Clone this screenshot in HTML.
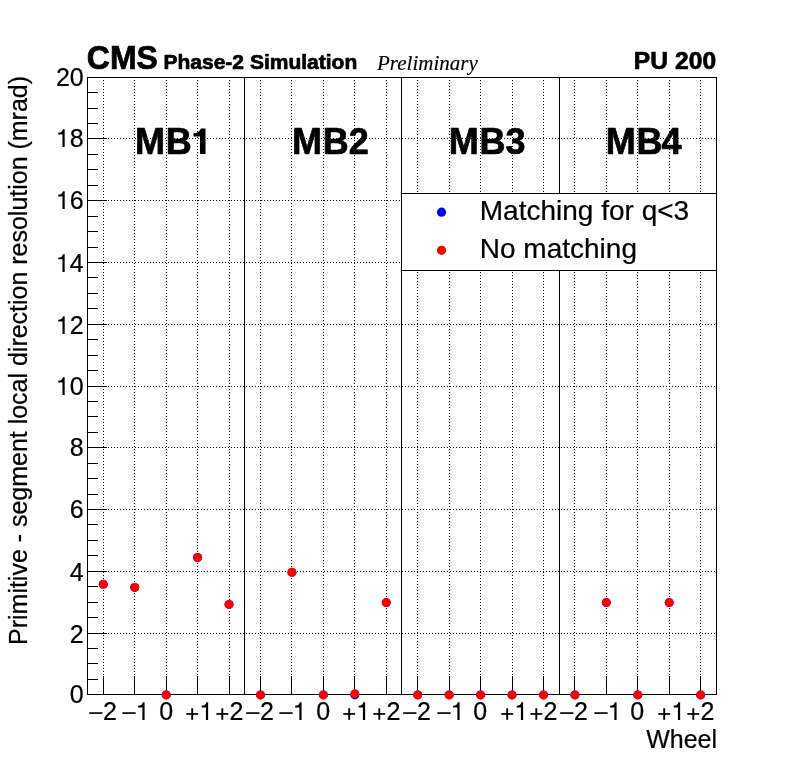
<!DOCTYPE html>
<html><head><meta charset="utf-8"><title>plot</title>
<style>
html,body{margin:0;padding:0;background:#fff;}
body{width:796px;height:772px;overflow:hidden;position:relative;font-family:"Liberation Sans",sans-serif;}
svg{position:absolute;left:0;top:0;will-change:transform;}
text{font-family:"Liberation Sans",sans-serif;fill:#000;stroke:#000;stroke-width:0.22px;stroke-linejoin:round;}
.s{font-family:"Liberation Serif",serif;font-style:italic;stroke-width:0.15px;}
.b{font-weight:bold;stroke-width:0.7px;}
</style></head><body>
<svg width="796" height="772" viewBox="0 0 796 772">
<rect x="0" y="0" width="796" height="772" fill="#fff"/>
<defs><path id="one" d="M359 0 L271 0 L271 505 L102 505 L102 568 C196 571 262 606 290 709 L359 709 Z"/><path id="oneb" d="M389 0 L236 0 L236 486 L56 486 L56 575 C160 580 225 620 262 709 L389 709 Z"/></defs>
<g shape-rendering="crispEdges" fill="#000">
<line x1="103.5" y1="80" x2="103.5" y2="694" stroke="#000" stroke-width="1" stroke-dasharray="1 2"/>
<line x1="134.5" y1="80" x2="134.5" y2="694" stroke="#000" stroke-width="1" stroke-dasharray="1 2"/>
<line x1="166.5" y1="80" x2="166.5" y2="694" stroke="#000" stroke-width="1" stroke-dasharray="1 2"/>
<line x1="197.5" y1="80" x2="197.5" y2="694" stroke="#000" stroke-width="1" stroke-dasharray="1 2"/>
<line x1="229.5" y1="80" x2="229.5" y2="694" stroke="#000" stroke-width="1" stroke-dasharray="1 2"/>
<line x1="260.5" y1="80" x2="260.5" y2="694" stroke="#000" stroke-width="1" stroke-dasharray="1 2"/>
<line x1="291.5" y1="80" x2="291.5" y2="694" stroke="#000" stroke-width="1" stroke-dasharray="1 2"/>
<line x1="323.5" y1="80" x2="323.5" y2="694" stroke="#000" stroke-width="1" stroke-dasharray="1 2"/>
<line x1="354.5" y1="80" x2="354.5" y2="694" stroke="#000" stroke-width="1" stroke-dasharray="1 2"/>
<line x1="386.5" y1="80" x2="386.5" y2="694" stroke="#000" stroke-width="1" stroke-dasharray="1 2"/>
<line x1="417.5" y1="80" x2="417.5" y2="694" stroke="#000" stroke-width="1" stroke-dasharray="1 2"/>
<line x1="449.5" y1="80" x2="449.5" y2="694" stroke="#000" stroke-width="1" stroke-dasharray="1 2"/>
<line x1="480.5" y1="80" x2="480.5" y2="694" stroke="#000" stroke-width="1" stroke-dasharray="1 2"/>
<line x1="512.5" y1="80" x2="512.5" y2="694" stroke="#000" stroke-width="1" stroke-dasharray="1 2"/>
<line x1="543.5" y1="80" x2="543.5" y2="694" stroke="#000" stroke-width="1" stroke-dasharray="1 2"/>
<line x1="574.5" y1="80" x2="574.5" y2="694" stroke="#000" stroke-width="1" stroke-dasharray="1 2"/>
<line x1="606.5" y1="80" x2="606.5" y2="694" stroke="#000" stroke-width="1" stroke-dasharray="1 2"/>
<line x1="637.5" y1="80" x2="637.5" y2="694" stroke="#000" stroke-width="1" stroke-dasharray="1 2"/>
<line x1="669.5" y1="80" x2="669.5" y2="694" stroke="#000" stroke-width="1" stroke-dasharray="1 2"/>
<line x1="700.5" y1="80" x2="700.5" y2="694" stroke="#000" stroke-width="1" stroke-dasharray="1 2"/>
<line x1="90" y1="633.5" x2="716" y2="633.5" stroke="#000" stroke-width="1" stroke-dasharray="1 2"/>
<line x1="90" y1="571.5" x2="716" y2="571.5" stroke="#000" stroke-width="1" stroke-dasharray="1 2"/>
<line x1="90" y1="509.5" x2="716" y2="509.5" stroke="#000" stroke-width="1" stroke-dasharray="1 2"/>
<line x1="90" y1="447.5" x2="716" y2="447.5" stroke="#000" stroke-width="1" stroke-dasharray="1 2"/>
<line x1="90" y1="386.5" x2="716" y2="386.5" stroke="#000" stroke-width="1" stroke-dasharray="1 2"/>
<line x1="90" y1="324.5" x2="716" y2="324.5" stroke="#000" stroke-width="1" stroke-dasharray="1 2"/>
<line x1="90" y1="262.5" x2="716" y2="262.5" stroke="#000" stroke-width="1" stroke-dasharray="1 2"/>
<line x1="90" y1="200.5" x2="716" y2="200.5" stroke="#000" stroke-width="1" stroke-dasharray="1 2"/>
<line x1="90" y1="138.5" x2="716" y2="138.5" stroke="#000" stroke-width="1" stroke-dasharray="1 2"/>
<rect x="87" y="77" width="630" height="1"/>
<rect x="87" y="694" width="630" height="1"/>
<rect x="87" y="77" width="1" height="618"/>
<rect x="716" y="77" width="1" height="618"/>
<rect x="244" y="77" width="1" height="618"/>
<rect x="401" y="77" width="1" height="618"/>
<rect x="559" y="77" width="1" height="618"/>
<rect x="87" y="694" width="20" height="1"/>
<rect x="87" y="679" width="11" height="1"/>
<rect x="87" y="663" width="11" height="1"/>
<rect x="87" y="648" width="11" height="1"/>
<rect x="87" y="633" width="20" height="1"/>
<rect x="87" y="617" width="11" height="1"/>
<rect x="87" y="602" width="11" height="1"/>
<rect x="87" y="586" width="11" height="1"/>
<rect x="87" y="571" width="20" height="1"/>
<rect x="87" y="555" width="11" height="1"/>
<rect x="87" y="540" width="11" height="1"/>
<rect x="87" y="524" width="11" height="1"/>
<rect x="87" y="509" width="20" height="1"/>
<rect x="87" y="494" width="11" height="1"/>
<rect x="87" y="478" width="11" height="1"/>
<rect x="87" y="463" width="11" height="1"/>
<rect x="87" y="447" width="20" height="1"/>
<rect x="87" y="432" width="11" height="1"/>
<rect x="87" y="416" width="11" height="1"/>
<rect x="87" y="401" width="11" height="1"/>
<rect x="87" y="386" width="20" height="1"/>
<rect x="87" y="370" width="11" height="1"/>
<rect x="87" y="355" width="11" height="1"/>
<rect x="87" y="339" width="11" height="1"/>
<rect x="87" y="324" width="20" height="1"/>
<rect x="87" y="308" width="11" height="1"/>
<rect x="87" y="293" width="11" height="1"/>
<rect x="87" y="277" width="11" height="1"/>
<rect x="87" y="262" width="20" height="1"/>
<rect x="87" y="247" width="11" height="1"/>
<rect x="87" y="231" width="11" height="1"/>
<rect x="87" y="216" width="11" height="1"/>
<rect x="87" y="200" width="20" height="1"/>
<rect x="87" y="185" width="11" height="1"/>
<rect x="87" y="169" width="11" height="1"/>
<rect x="87" y="154" width="11" height="1"/>
<rect x="87" y="138" width="20" height="1"/>
<rect x="87" y="123" width="11" height="1"/>
<rect x="87" y="108" width="11" height="1"/>
<rect x="87" y="92" width="11" height="1"/>
<rect x="87" y="77" width="20" height="1"/>
<rect x="103" y="676" width="1" height="18"/>
<rect x="134" y="676" width="1" height="18"/>
<rect x="166" y="676" width="1" height="18"/>
<rect x="197" y="676" width="1" height="18"/>
<rect x="229" y="676" width="1" height="18"/>
<rect x="260" y="676" width="1" height="18"/>
<rect x="291" y="676" width="1" height="18"/>
<rect x="323" y="676" width="1" height="18"/>
<rect x="354" y="676" width="1" height="18"/>
<rect x="386" y="676" width="1" height="18"/>
<rect x="417" y="676" width="1" height="18"/>
<rect x="449" y="676" width="1" height="18"/>
<rect x="480" y="676" width="1" height="18"/>
<rect x="512" y="676" width="1" height="18"/>
<rect x="543" y="676" width="1" height="18"/>
<rect x="574" y="676" width="1" height="18"/>
<rect x="606" y="676" width="1" height="18"/>
<rect x="637" y="676" width="1" height="18"/>
<rect x="669" y="676" width="1" height="18"/>
<rect x="700" y="676" width="1" height="18"/>
</g>
<g shape-rendering="crispEdges">
<rect x="402" y="193" width="314" height="78" fill="#fff"/>
<rect x="401" y="193" width="316" height="1" fill="#000"/>
<rect x="401" y="270" width="316" height="1" fill="#000"/>
<rect x="401" y="193" width="1" height="78" fill="#000"/>
<rect x="716" y="193" width="1" height="78" fill="#000"/>
</g>
<circle cx="103.28" cy="584.35" r="4.5" fill="#0000ff"/>
<circle cx="134.72" cy="587.44" r="4.5" fill="#0000ff"/>
<circle cx="166.17" cy="694.90" r="4.5" fill="#0000ff"/>
<circle cx="197.61" cy="557.48" r="4.5" fill="#0000ff"/>
<circle cx="229.05" cy="604.42" r="4.5" fill="#0000ff"/>
<circle cx="260.49" cy="694.90" r="4.5" fill="#0000ff"/>
<circle cx="291.93" cy="572.31" r="4.5" fill="#0000ff"/>
<circle cx="323.38" cy="694.90" r="4.5" fill="#0000ff"/>
<circle cx="354.82" cy="694.90" r="4.5" fill="#0000ff"/>
<circle cx="386.26" cy="602.57" r="4.5" fill="#0000ff"/>
<circle cx="417.70" cy="694.90" r="4.5" fill="#0000ff"/>
<circle cx="449.14" cy="694.90" r="4.5" fill="#0000ff"/>
<circle cx="480.59" cy="694.90" r="4.5" fill="#0000ff"/>
<circle cx="512.03" cy="694.90" r="4.5" fill="#0000ff"/>
<circle cx="543.47" cy="694.90" r="4.5" fill="#0000ff"/>
<circle cx="574.91" cy="694.90" r="4.5" fill="#0000ff"/>
<circle cx="606.35" cy="602.57" r="4.5" fill="#0000ff"/>
<circle cx="637.80" cy="694.90" r="4.5" fill="#0000ff"/>
<circle cx="669.24" cy="602.57" r="4.5" fill="#0000ff"/>
<circle cx="700.68" cy="694.90" r="4.5" fill="#0000ff"/>
<circle cx="103.28" cy="584.35" r="4.5" fill="#ff0000"/>
<circle cx="134.72" cy="587.44" r="4.5" fill="#ff0000"/>
<circle cx="166.17" cy="694.90" r="4.5" fill="#ff0000"/>
<circle cx="197.61" cy="557.48" r="4.5" fill="#ff0000"/>
<circle cx="229.05" cy="604.42" r="4.5" fill="#ff0000"/>
<circle cx="260.49" cy="694.90" r="4.5" fill="#ff0000"/>
<circle cx="291.93" cy="572.31" r="4.5" fill="#ff0000"/>
<circle cx="323.38" cy="694.90" r="4.5" fill="#ff0000"/>
<circle cx="354.82" cy="693.66" r="4.5" fill="#ff0000"/>
<circle cx="386.26" cy="602.57" r="4.5" fill="#ff0000"/>
<circle cx="417.70" cy="694.90" r="4.5" fill="#ff0000"/>
<circle cx="449.14" cy="694.90" r="4.5" fill="#ff0000"/>
<circle cx="480.59" cy="694.90" r="4.5" fill="#ff0000"/>
<circle cx="512.03" cy="694.90" r="4.5" fill="#ff0000"/>
<circle cx="543.47" cy="694.90" r="4.5" fill="#ff0000"/>
<circle cx="574.91" cy="694.90" r="4.5" fill="#ff0000"/>
<circle cx="606.35" cy="602.57" r="4.5" fill="#ff0000"/>
<circle cx="637.80" cy="694.90" r="4.5" fill="#ff0000"/>
<circle cx="669.24" cy="602.57" r="4.5" fill="#ff0000"/>
<circle cx="700.68" cy="694.90" r="4.5" fill="#ff0000"/>
<circle cx="441.55" cy="212.2" r="4.6" fill="#0000ff"/>
<circle cx="441.55" cy="250.3" r="4.6" fill="#ff0000"/>
<text x="479.8" y="220" font-size="28">Matching for q&lt;3</text>
<text x="479.8" y="258.3" font-size="28">No matching</text>
<text x="83.7" y="703" font-size="25" text-anchor="end">0</text>
<text x="83.7" y="643" font-size="25" text-anchor="end">2</text>
<text x="83.7" y="581" font-size="25" text-anchor="end">4</text>
<text x="83.7" y="518" font-size="25" text-anchor="end">6</text>
<text x="83.7" y="456" font-size="25" text-anchor="end">8</text>
<use href="#one" transform="translate(55.7,395) scale(0.025,-0.025)"/><text x="83.7" y="395" font-size="25" text-anchor="end">0</text>
<use href="#one" transform="translate(55.7,334) scale(0.025,-0.025)"/><text x="83.7" y="334" font-size="25" text-anchor="end">2</text>
<use href="#one" transform="translate(55.7,272) scale(0.025,-0.025)"/><text x="83.7" y="272" font-size="25" text-anchor="end">4</text>
<use href="#one" transform="translate(55.7,209) scale(0.025,-0.025)"/><text x="83.7" y="209" font-size="25" text-anchor="end">6</text>
<use href="#one" transform="translate(55.7,147) scale(0.025,-0.025)"/><text x="83.7" y="147" font-size="25" text-anchor="end">8</text>
<text x="83.7" y="86" font-size="25" text-anchor="end">20</text>
<rect x="89.15" y="712.25" width="13.3" height="1.65"/><text x="110.05" y="720" font-size="25" text-anchor="middle">2</text>
<rect x="122.35" y="712.25" width="13.3" height="1.65"/><use href="#one" transform="translate(135.60,720) scale(0.025,-0.025)"/>
<text x="166.10" y="720" font-size="25" text-anchor="middle">0</text>
<rect x="186.25" y="713.1" width="11.9" height="1.7"/><rect x="191.25" y="708.3" width="1.9" height="11.5"/><use href="#one" transform="translate(199.15,720) scale(0.025,-0.025)"/>
<rect x="216.35" y="713.1" width="11.9" height="1.7"/><rect x="221.35" y="708.3" width="1.9" height="11.5"/><text x="236.55" y="720" font-size="25" text-anchor="middle">2</text>
<rect x="246.15" y="712.25" width="13.3" height="1.65"/><text x="267.05" y="720" font-size="25" text-anchor="middle">2</text>
<rect x="279.35" y="712.25" width="13.3" height="1.65"/><use href="#one" transform="translate(292.60,720) scale(0.025,-0.025)"/>
<text x="323.10" y="720" font-size="25" text-anchor="middle">0</text>
<rect x="343.25" y="713.1" width="11.9" height="1.7"/><rect x="348.25" y="708.3" width="1.9" height="11.5"/><use href="#one" transform="translate(356.15,720) scale(0.025,-0.025)"/>
<rect x="373.35" y="713.1" width="11.9" height="1.7"/><rect x="378.35" y="708.3" width="1.9" height="11.5"/><text x="393.55" y="720" font-size="25" text-anchor="middle">2</text>
<rect x="403.15" y="712.25" width="13.3" height="1.65"/><text x="424.05" y="720" font-size="25" text-anchor="middle">2</text>
<rect x="437.35" y="712.25" width="13.3" height="1.65"/><use href="#one" transform="translate(450.60,720) scale(0.025,-0.025)"/>
<text x="480.10" y="720" font-size="25" text-anchor="middle">0</text>
<rect x="501.25" y="713.1" width="11.9" height="1.7"/><rect x="506.25" y="708.3" width="1.9" height="11.5"/><use href="#one" transform="translate(514.15,720) scale(0.025,-0.025)"/>
<rect x="530.35" y="713.1" width="11.9" height="1.7"/><rect x="535.35" y="708.3" width="1.9" height="11.5"/><text x="550.55" y="720" font-size="25" text-anchor="middle">2</text>
<rect x="560.15" y="712.25" width="13.3" height="1.65"/><text x="581.05" y="720" font-size="25" text-anchor="middle">2</text>
<rect x="594.35" y="712.25" width="13.3" height="1.65"/><use href="#one" transform="translate(607.60,720) scale(0.025,-0.025)"/>
<text x="637.10" y="720" font-size="25" text-anchor="middle">0</text>
<rect x="658.25" y="713.1" width="11.9" height="1.7"/><rect x="663.25" y="708.3" width="1.9" height="11.5"/><use href="#one" transform="translate(671.15,720) scale(0.025,-0.025)"/>
<rect x="687.35" y="713.1" width="11.9" height="1.7"/><rect x="692.35" y="708.3" width="1.9" height="11.5"/><text x="707.55" y="720" font-size="25" text-anchor="middle">2</text>
<text x="717" y="748" font-size="25" text-anchor="end">Wheel</text>
<text transform="translate(27.2,76.0) rotate(-90)" font-size="24.98" text-anchor="end">Primitive - segment local direction resolution (mrad)</text>
<text transform="translate(86.8,68.8) scale(1,1.06)" font-size="32" class="b">CMS</text>
<text x="163.5" y="68.6" font-size="21" class="b">Phase-2 Simulation</text>
<text x="377" y="69.5" font-size="21" class="s">Preliminary</text>
<text x="633.8" y="68.6" font-size="24.6" class="b">PU</text><text x="716.1" y="68.6" font-size="24.6" class="b" text-anchor="end">200</text>
<text x="135.0" y="154" font-size="36" class="b">M<tspan dx="0.8">B</tspan></text><use href="#oneb" transform="translate(191.50,154) scale(0.036,-0.036)"/>
<text x="291.9" y="154" font-size="36" class="b">M<tspan dx="0.8">B</tspan><tspan dx="0">2</tspan></text>
<text x="448.8" y="154" font-size="36" class="b">M<tspan dx="0.8">B</tspan><tspan dx="0">3</tspan></text>
<text x="605.7" y="154" font-size="36" class="b">M<tspan dx="0.8">B</tspan><tspan dx="-1">4</tspan></text>
</svg>
</body></html>
